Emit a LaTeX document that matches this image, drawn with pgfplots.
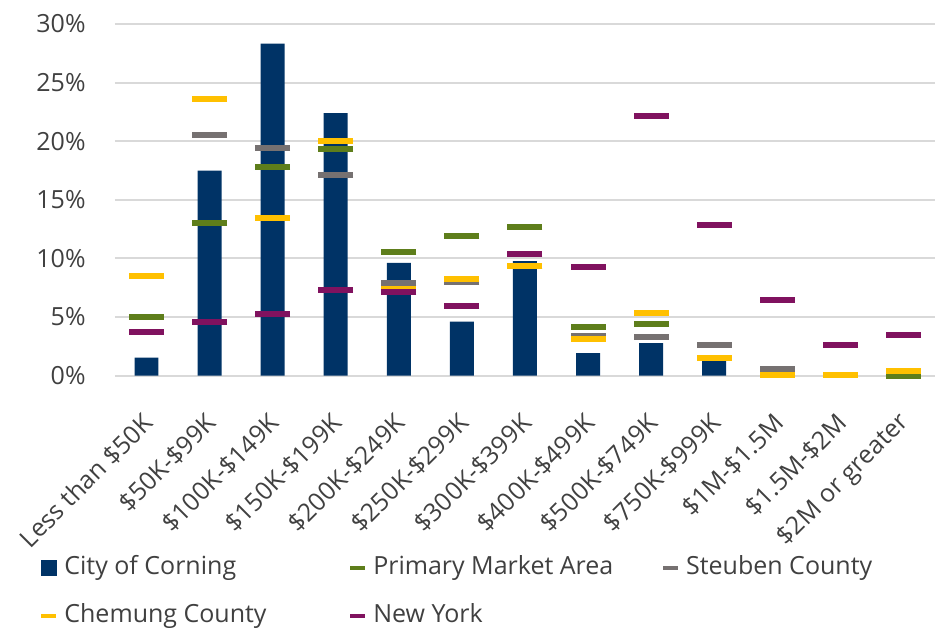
\documentclass[border=0pt]{standalone}
\usepackage{fontspec}
\setmainfont{Open Sans}
\usepackage{pgfplots}
\usepackage{pgfplotstable}
\pgfplotsset{compat=1.18}

\definecolor{navy}{HTML}{003366}
\definecolor{pmagreen}{HTML}{5E7E1B}
\definecolor{steubengray}{HTML}{767171}
\definecolor{chemungorange}{HTML}{FFC000}
\definecolor{nypurple}{HTML}{80125F}
\definecolor{gridgray}{HTML}{D9D9D9}
\definecolor{textgray}{HTML}{404040}

% Share of owner-occupied homes by value band (percent)
\pgfplotstableread{
x  city  pma    steuben chemung ny
0  1.54  5.03   8.51    8.51    3.70
1  17.49 13.00  20.54   23.61   4.58
2  28.33 17.81  19.45   13.43   5.24
3  22.39 19.34  17.15   20.03   7.31
4  9.62  10.58  7.88    7.36    7.12
5  4.61  11.89  8.00    8.28    5.92
6  9.76  12.66  9.39    9.39    10.36
7  1.91  4.15   3.40    3.15    9.26
8  2.76  4.44   3.26    5.35    22.18
9  1.25  1.51   2.59    1.51    12.88
10 0.10  0.09   0.57    0.09    6.42
11 0.00  0.09   0.09    0.09    2.60
12 0.00  0.00   0.41    0.41    3.47
}\valuedata

\begin{document}
\begin{tikzpicture}[font=\fontsize{12.5pt}{15pt}\selectfont]
\useasboundingbox (-57.5pt,-127.65pt) rectangle (410.15pt,187.85pt);
\begin{axis}[
  scale only axis,
  width=410.15pt, height=175.85pt,
  xmin=-0.5, xmax=12.5,
  ymin=0, ymax=30,
  axis line style={draw=none},
  major tick length=0pt,
  ymajorgrids,
  grid style={gridgray, line width=1pt},
  ytick={0,5,10,15,20,25,30},
  yticklabels={0\%,5\%,10\%,15\%,20\%,25\%,30\%},
  yticklabel style={text=textgray, inner sep=0pt, anchor=east, xshift=-14.5pt},
  xtick={0,1,2,3,4,5,6,7,8,9,10,11,12},
  xticklabels={Less than \$50K,\$50K-\$99K,\$100K-\$149K,\$150K-\$199K,
    \$200K-\$249K,\$250K-\$299K,\$300K-\$399K,\$400K-\$499K,\$500K-\$749K,
    \$750K-\$999K,\$1M-\$1.5M,\$1.5M-\$2M,\$2M or greater},
  xticklabel style={text=textgray, inner sep=0pt, yshift=-21.5pt, xshift=1pt,
    rotate=45, anchor=east},
  legend columns=3,
  legend style={draw=none, fill=none, inner sep=0pt,
    at={(0,0)}, anchor=north west, xshift=-38pt, yshift=-89.5pt,
    row sep=11pt, column sep=0pt,
    nodes={inner sep=0pt, text height=10pt, text depth=3pt, text=textgray}},
  every axis plot/.append style={only marks, mark=-, mark size=8.75pt,
    mark options={line width=3pt}},
]
\addplot[ybar, bar width=12pt, fill=navy, draw=none, mark=none,
  legend image code/.code={\fill[navy] (0pt,-4pt) rectangle (8pt,4pt);}]
  table[x=x, y=city] {\valuedata};
\addlegendentry{\makebox[145pt][l]{\hspace{3pt}City of Corning}}

\addplot[pmagreen,
  legend image code/.code={\draw[pmagreen, line width=2pt] (0pt,0pt) -- (7.5pt,0pt);}]
  table[x=x, y=pma] {\valuedata};
\addlegendentry{\makebox[147pt][l]{\hspace{3pt}Primary Market Area}}

\addplot[steubengray,
  legend image code/.code={\draw[steubengray, line width=2pt] (0pt,0pt) -- (7.5pt,0pt);}]
  table[x=x, y=steuben] {\valuedata};
\addlegendentry{\makebox[120pt][l]{\hspace{3pt}Steuben County}}

\addplot[chemungorange,
  legend image code/.code={\draw[chemungorange, line width=2pt] (0pt,0pt) -- (7.5pt,0pt);}]
  table[x=x, y=chemung] {\valuedata};
\addlegendentry{\makebox[145pt][l]{\hspace{3pt}Chemung County}}

\addplot[nypurple,
  legend image code/.code={\draw[nypurple, line width=2pt] (0pt,0pt) -- (7.5pt,0pt);}]
  table[x=x, y=ny] {\valuedata};
\addlegendentry{\makebox[147pt][l]{\hspace{3pt}New York}}
\end{axis}
\end{tikzpicture}
\end{document}
